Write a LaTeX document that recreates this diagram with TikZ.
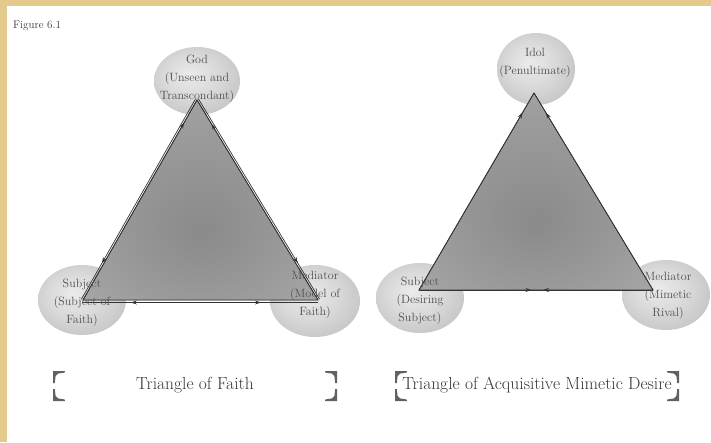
\documentclass[tikz,border=0pt]{standalone}
\usetikzlibrary{shapes.geometric,arrows.meta,decorations.markings,calc}
\definecolor{tan}{HTML}{E4CA8C}
\definecolor{labelgray}{HTML}{4E4E4E}
\definecolor{titlegray}{HTML}{363636}
\pgfdeclareradialshading{ballgray}{\pgfpoint{-5bp}{5bp}}{color(0bp)=(black!8); color(16bp)=(black!15); color(32bp)=(black!24); color(44bp)=(black!28); color(50bp)=(black!18)}
\pgfdeclareradialshading{tridark}{\pgfpoint{0bp}{-8bp}}{color(0bp)=(black!46); color(22bp)=(black!39); color(50bp)=(black!29)}
\tikzset{
  ball/.style={shape=ellipse, shading=ballgray, draw=none, inner sep=0pt},
  lbl/.style={text=labelgray, align=center, font=\fontsize{12}{18}\selectfont, inner sep=0pt},
  ttl/.style={text=titlegray, font=\fontsize{17.5}{20}\selectfont, inner sep=0pt},
  edge/.style={draw=black!80, line width=0.7pt},
  tip/.style={decoration={markings, mark=at position #1 with {\arrow{Stealth[length=6pt,width=4pt]}}}, postaction={decorate}},
  brk/.style={fill=black!62},
  corner/.pic={\fill[brk] (0,0) -- (12,0) -- (11.5,1.6) -- (5,2.6) -- (2.6,5) -- (1.8,12) -- (0,12) -- cycle;}
}
\begin{document}
\begin{tikzpicture}[x=1pt,y=-1pt]
  % background
  \fill[tan] (0,0) rectangle (711,442);
  \fill[white] (7,6) rectangle (711,442);
  \useasboundingbox (0,0) rectangle (711,442);

  \node[anchor=west, font=\fontsize{11}{13}\selectfont, text=titlegray, inner sep=0pt] (fig) at (13,26) {Figure 6.1};

  % ---------- left diagram ----------
  \node[ball, minimum width=86pt, minimum height=68pt] (godE) at (197,81) {};
  \node[ball, minimum width=88pt, minimum height=70pt] (subLE) at (82,300) {};
  \node[ball, minimum width=90pt, minimum height=72pt] (medLE) at (315,301) {};

  \coordinate (G1) at (197,100);
  \coordinate (S1) at (83,300);
  \coordinate (M1) at (318,300);
  \fill[shading=tridark] (S1) -- (G1) -- (M1) -- cycle;
  \draw[edge, line join=miter] (S1) -- (G1) -- (M1) -- cycle;

  \draw[edge, tip=0.887] (S1) -- (G1);
  \draw[edge, tip=0.82] ($(G1)!1.8pt!-90:(S1)$) -- ($(S1)!1.8pt!90:(G1)$);
  \draw[edge, tip=0.88] (M1) -- (G1);
  \draw[edge, tip=0.82] ($(G1)!1.8pt!90:(M1)$) -- ($(M1)!1.8pt!-90:(G1)$);
  \draw[edge, tip=0.757] ($(S1)!2.5pt!-90:(M1)$) -- ($(M1)!2.5pt!90:(S1)$);
  \draw[edge, tip=0.796] ($(M1)!2.5pt!90:(S1)$) -- ($(S1)!2.5pt!-90:(M1)$);

  \node[lbl] (godT) at (197,79) {God\\(Unseen and\\Transcondant)};
  \node[lbl] (subLT) at (82,303) {Subject\\(Subject of\\Faith)};
  \node[lbl] (medLT) at (315,295) {Mediator\\(Model of\\Faith)};

  % ---------- right diagram ----------
  \node[ball, minimum width=78pt, minimum height=72pt] (idolE) at (536,69) {};
  \node[ball, minimum width=88pt, minimum height=70pt] (subRE) at (420,298) {};
  \node[ball, minimum width=88pt, minimum height=70pt] (medRE) at (666,295) {};

  \coordinate (G2) at (534,93);
  \coordinate (S2) at (419,290);
  \coordinate (M2) at (653,290);
  \fill[shading=tridark] (S2) -- (G2) -- (M2) -- cycle;
  \draw[edge, line join=miter] (S2) -- (G2) -- (M2) -- cycle;
  \draw[edge, tip=0.9] (S2) -- (G2);
  \draw[edge, tip=0.9] (M2) -- (G2);
  \draw[edge, tip=0.48] (S2) -- (M2);
  \draw[edge, tip=0.47] (M2) -- (S2);

  \node[lbl] (idolT) at (535,63) {Idol\\(Penultimate)};
  \node[lbl] (subRT) at (420,301) {Subject\\(Desiring\\Subject)};
  \node[lbl] (medRT) at (668,296) {Mediator\\(Mimetic\\Rival)};

  % ---------- titles ----------
  \node[ttl] (t1) at (195,385) {Triangle of Faith};
  \pic at (53,371) {corner};
  \pic[yscale=-1] at (53,401) {corner};
  \pic[xscale=-1] at (337,371) {corner};
  \pic[xscale=-1,yscale=-1] at (337,401) {corner};

  \node[ttl] (t2) at (537,385) {Triangle of Acquisitive Mimetic Desire};
  \pic at (395,371) {corner};
  \pic[yscale=-1] at (395,401) {corner};
  \pic[xscale=-1] at (679,371) {corner};
  \pic[xscale=-1,yscale=-1] at (679,401) {corner};
\end{tikzpicture}
\end{document}
